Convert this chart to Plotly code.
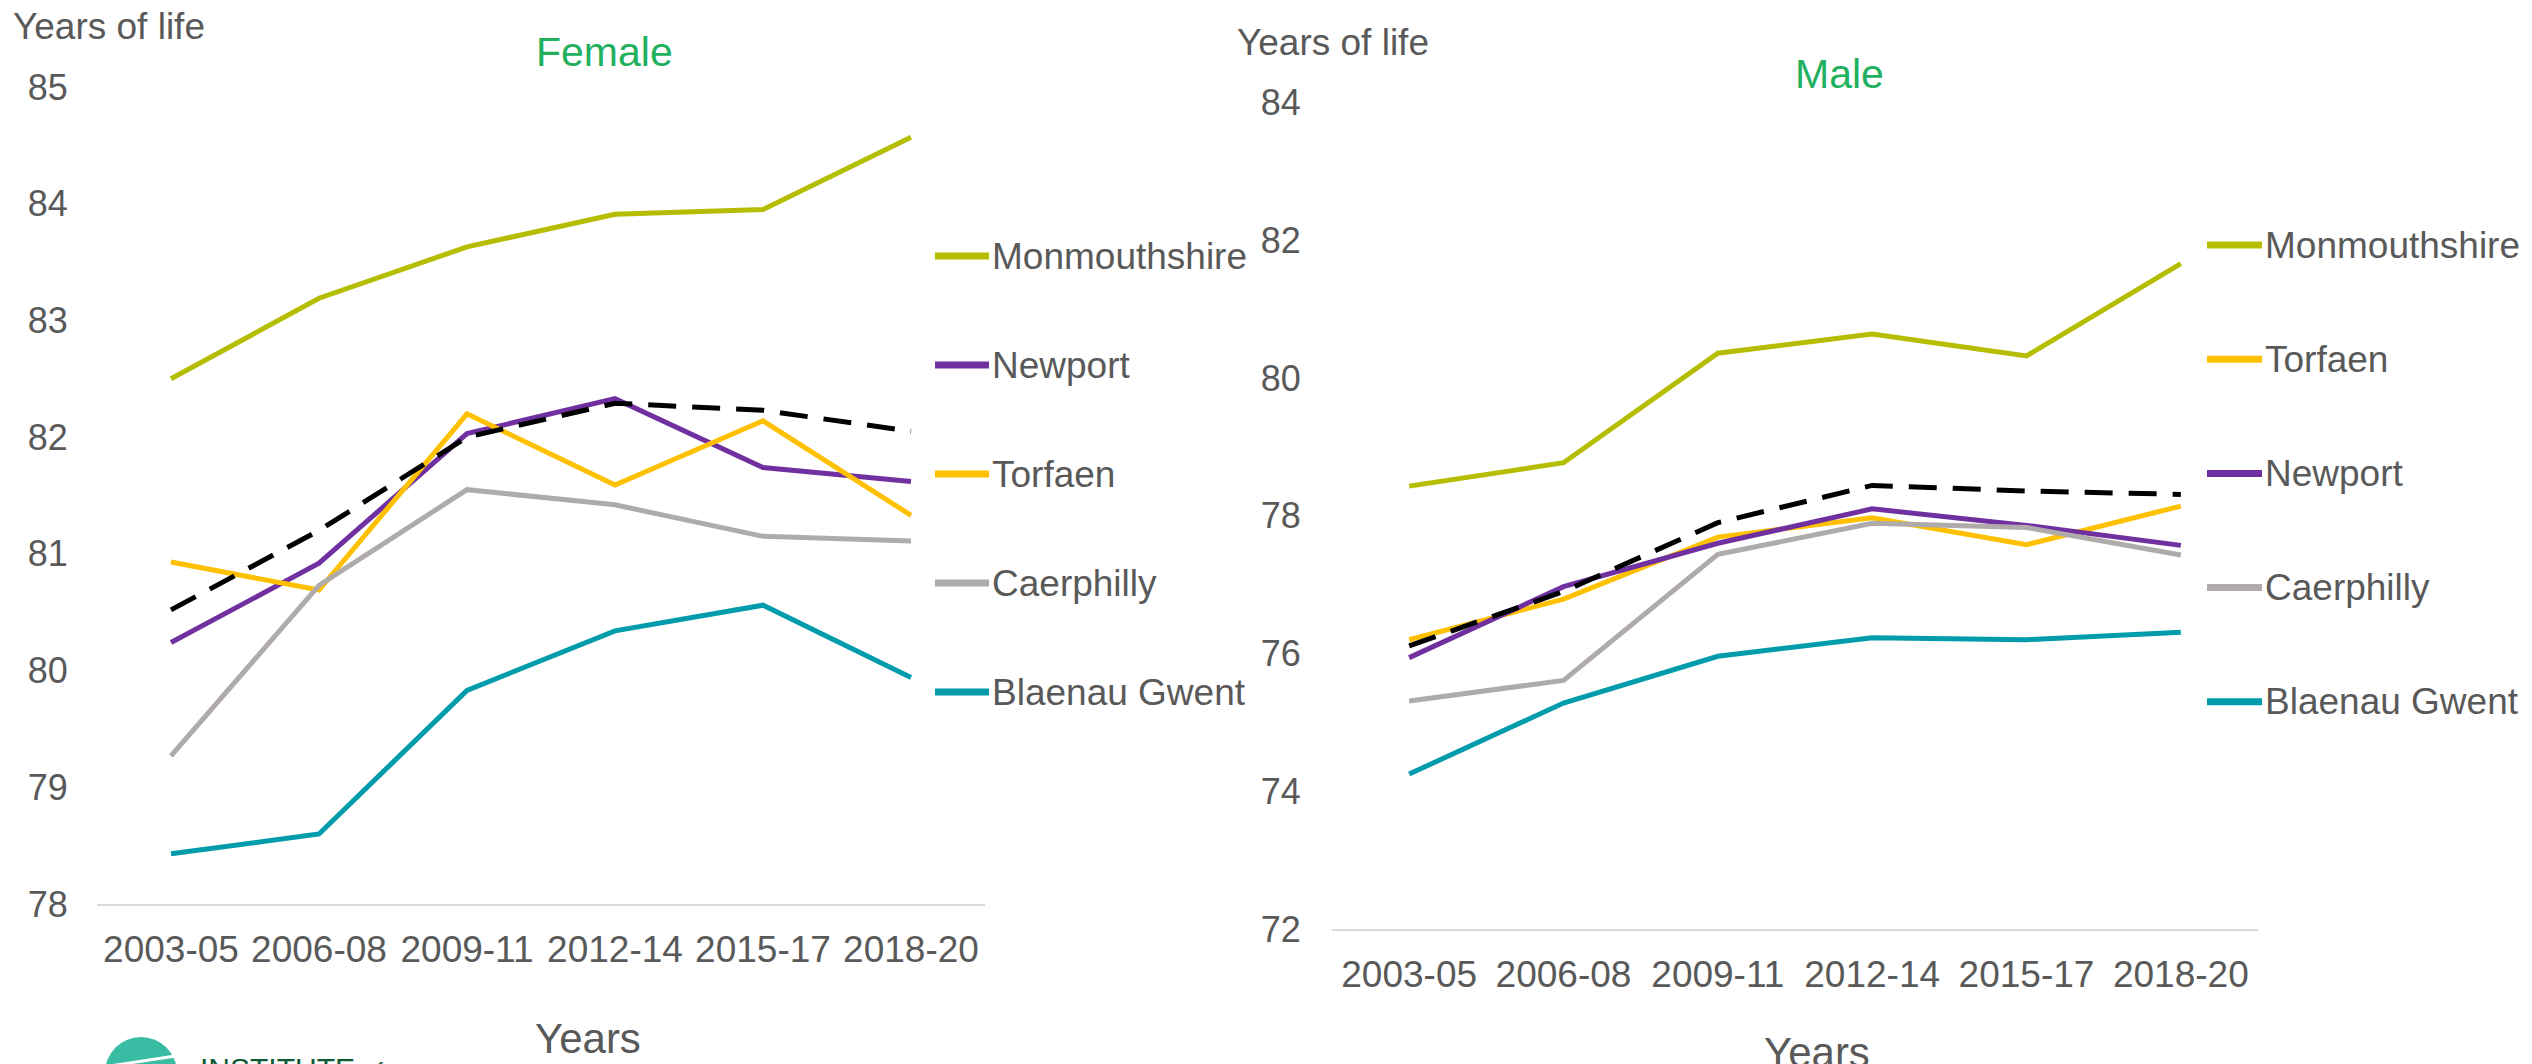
import plotly.graph_objects as go

# Three-year periods on the x axis
periods = ["2003-05", "2006-08", "2009-11", "2012-14", "2015-17", "2018-20"]

# Female life expectancy (years)
f_monmouthshire = [82.50, 83.19, 83.63, 83.91, 83.95, 84.57]
f_newport = [80.24, 80.92, 82.03, 82.33, 81.74, 81.62]
f_torfaen = [80.93, 80.69, 82.20, 81.59, 82.14, 81.33]
f_caerphilly = [79.27, 80.73, 81.55, 81.42, 81.15, 81.11]
f_blaenau = [78.43, 78.60, 79.83, 80.34, 80.56, 79.94]
f_wales = [80.52, 81.20, 82.00, 82.29, 82.23, 82.05]

# Male life expectancy (years)
m_monmouthshire = [78.43, 78.77, 80.36, 80.64, 80.32, 81.66]
m_torfaen = [76.20, 76.79, 77.69, 77.97, 77.58, 78.14]
m_newport = [75.94, 76.97, 77.60, 78.10, 77.86, 77.57]
m_caerphilly = [75.31, 75.61, 77.44, 77.89, 77.83, 77.43]
m_blaenau = [74.25, 75.28, 75.96, 76.23, 76.20, 76.31]
m_wales = [76.11, 76.90, 77.90, 78.44, 78.36, 78.31]

colors = {
    "Monmouthshire": "#B5BD00",
    "Newport": "#7030A0",
    "Torfaen": "#FFC000",
    "Caerphilly": "#AFABAB",
    "Blaenau Gwent": "#009CAB",
}

female = {
    "Monmouthshire": f_monmouthshire,
    "Newport": f_newport,
    "Torfaen": f_torfaen,
    "Caerphilly": f_caerphilly,
    "Blaenau Gwent": f_blaenau,
}
male = {
    "Monmouthshire": m_monmouthshire,
    "Torfaen": m_torfaen,
    "Newport": m_newport,
    "Caerphilly": m_caerphilly,
    "Blaenau Gwent": m_blaenau,
}

W, H = 2532, 1064
FONT = "Liberation Sans, Arial, sans-serif"
GREY = "#595959"
GREEN = "#21B05E"


def px_x(x):
    return x / W


def px_y(y):
    return 1 - y / H


fig = go.Figure()

# ---- traces ----
for name, vals in female.items():
    fig.add_trace(go.Scatter(x=periods, y=vals, mode="lines", name=name,
                             line=dict(color=colors[name], width=5),
                             xaxis="x", yaxis="y", showlegend=False))
fig.add_trace(go.Scatter(x=periods, y=f_wales, mode="lines", name="Wales",
                         line=dict(color="black", width=5, dash="28px,16px"),
                         xaxis="x", yaxis="y", showlegend=False))

for name, vals in male.items():
    fig.add_trace(go.Scatter(x=periods, y=vals, mode="lines", name=name,
                             line=dict(color=colors[name], width=5),
                             xaxis="x2", yaxis="y2", showlegend=False))
fig.add_trace(go.Scatter(x=periods, y=m_wales, mode="lines", name="Wales",
                         line=dict(color="black", width=5, dash="28px,16px"),
                         xaxis="x2", yaxis="y2", showlegend=False))

# ---- hand-drawn legends (Excel style, right of each panel) ----
shapes = []
annotations = []


def add_legend(names, x_line0, x_line1, x_text, y_first, step):
    for i, name in enumerate(names):
        y = px_y(y_first + i * step)
        shapes.append(dict(type="line", xref="paper", yref="paper",
                           x0=px_x(x_line0), x1=px_x(x_line1), y0=y, y1=y,
                           line=dict(color=colors[name], width=7)))
        annotations.append(dict(text=name, xref="paper", yref="paper",
                                x=px_x(x_text), y=y, xanchor="left", yanchor="middle",
                                showarrow=False, font=dict(size=37, color=GREY, family=FONT)))


add_legend(list(female.keys()), 935, 989, 990, 256, 109)
add_legend(list(male.keys()), 2207, 2262, 2263, 245, 114.2)

# ---- titles and axis labels ----
def label(text, x, y, size, color=GREY, xanchor="center"):
    annotations.append(dict(text=text, xref="paper", yref="paper", x=px_x(x), y=px_y(y),
                            xanchor=xanchor, yanchor="middle", showarrow=False,
                            font=dict(size=size, color=color, family=FONT)))


label("Years of life", 11, 27, 37, xanchor="left")
label("Years of life", 1235, 42, 37, xanchor="left")
label("Female", 604, 52, 41, color=GREEN)
label("Male", 1839, 74, 41, color=GREEN)
label("Years", 588, 1038, 42)
label("Years", 1817, 1052, 42)

# logo fragment at bottom left
shapes.append(dict(type="circle", xref="paper", yref="paper",
                   x0=px_x(105), x1=px_x(177), y0=px_y(1109), y1=px_y(1037),
                   fillcolor="#38BDA4", line=dict(width=0)))
shapes.append(dict(type="line", xref="paper", yref="paper",
                   x0=px_x(110), x1=px_x(182), y0=px_y(1066), y1=px_y(1055),
                   line=dict(color="white", width=3)))
annotations.append(dict(text="INSTITUTE", xref="paper", yref="paper", x=px_x(198), y=px_y(1068),
                        xanchor="left", yanchor="middle", showarrow=False,
                        font=dict(size=30, color="#0D5A34", family=FONT)))
annotations.append(dict(text="of", xref="paper", yref="paper", x=px_x(364), y=px_y(1070),
                        xanchor="left", yanchor="middle", showarrow=False,
                        font=dict(size=20, color="#0D5A34", family=FONT)))

xaxis_style = dict(type="category", range=[-0.5, len(periods) - 0.5],
                   showgrid=False, zeroline=False, showline=True,
                   linecolor="#D9D9D9", linewidth=2, ticks="outside", ticklen=12,
                   tickcolor="rgba(0,0,0,0)", automargin=False,
                   tickfont=dict(size=37, color=GREY, family=FONT))
yaxis_style = dict(showgrid=False, zeroline=False, showline=False, ticks="outside",
                   tickcolor="rgba(0,0,0,0)", automargin=False,
                   tickfont=dict(size=36, color=GREY, family=FONT))

fig.update_layout(
    width=W, height=H,
    margin=dict(l=0, r=0, t=0, b=0, autoexpand=False),
    paper_bgcolor="white", plot_bgcolor="white",
    xaxis=dict(domain=[px_x(97), px_x(985)], anchor="y", **xaxis_style),
    yaxis=dict(domain=[px_y(904), px_y(87)], anchor="x", range=[78, 85], dtick=1,
               ticklen=21, **yaxis_style),
    xaxis2=dict(domain=[px_x(1332), px_x(2258)], anchor="y2", **xaxis_style),
    yaxis2=dict(domain=[px_y(929), px_y(102.5)], anchor="x2", range=[72, 84], dtick=2,
                ticklen=23, **yaxis_style),
    shapes=shapes,
    annotations=annotations,
    showlegend=False,
)

# drop the default page margin so the figure sits at the window's top-left corner
fig.write_html("out.html", config={"displayModeBar": False},
               post_script="document.body.style.margin='0';document.body.style.overflow='hidden';")
